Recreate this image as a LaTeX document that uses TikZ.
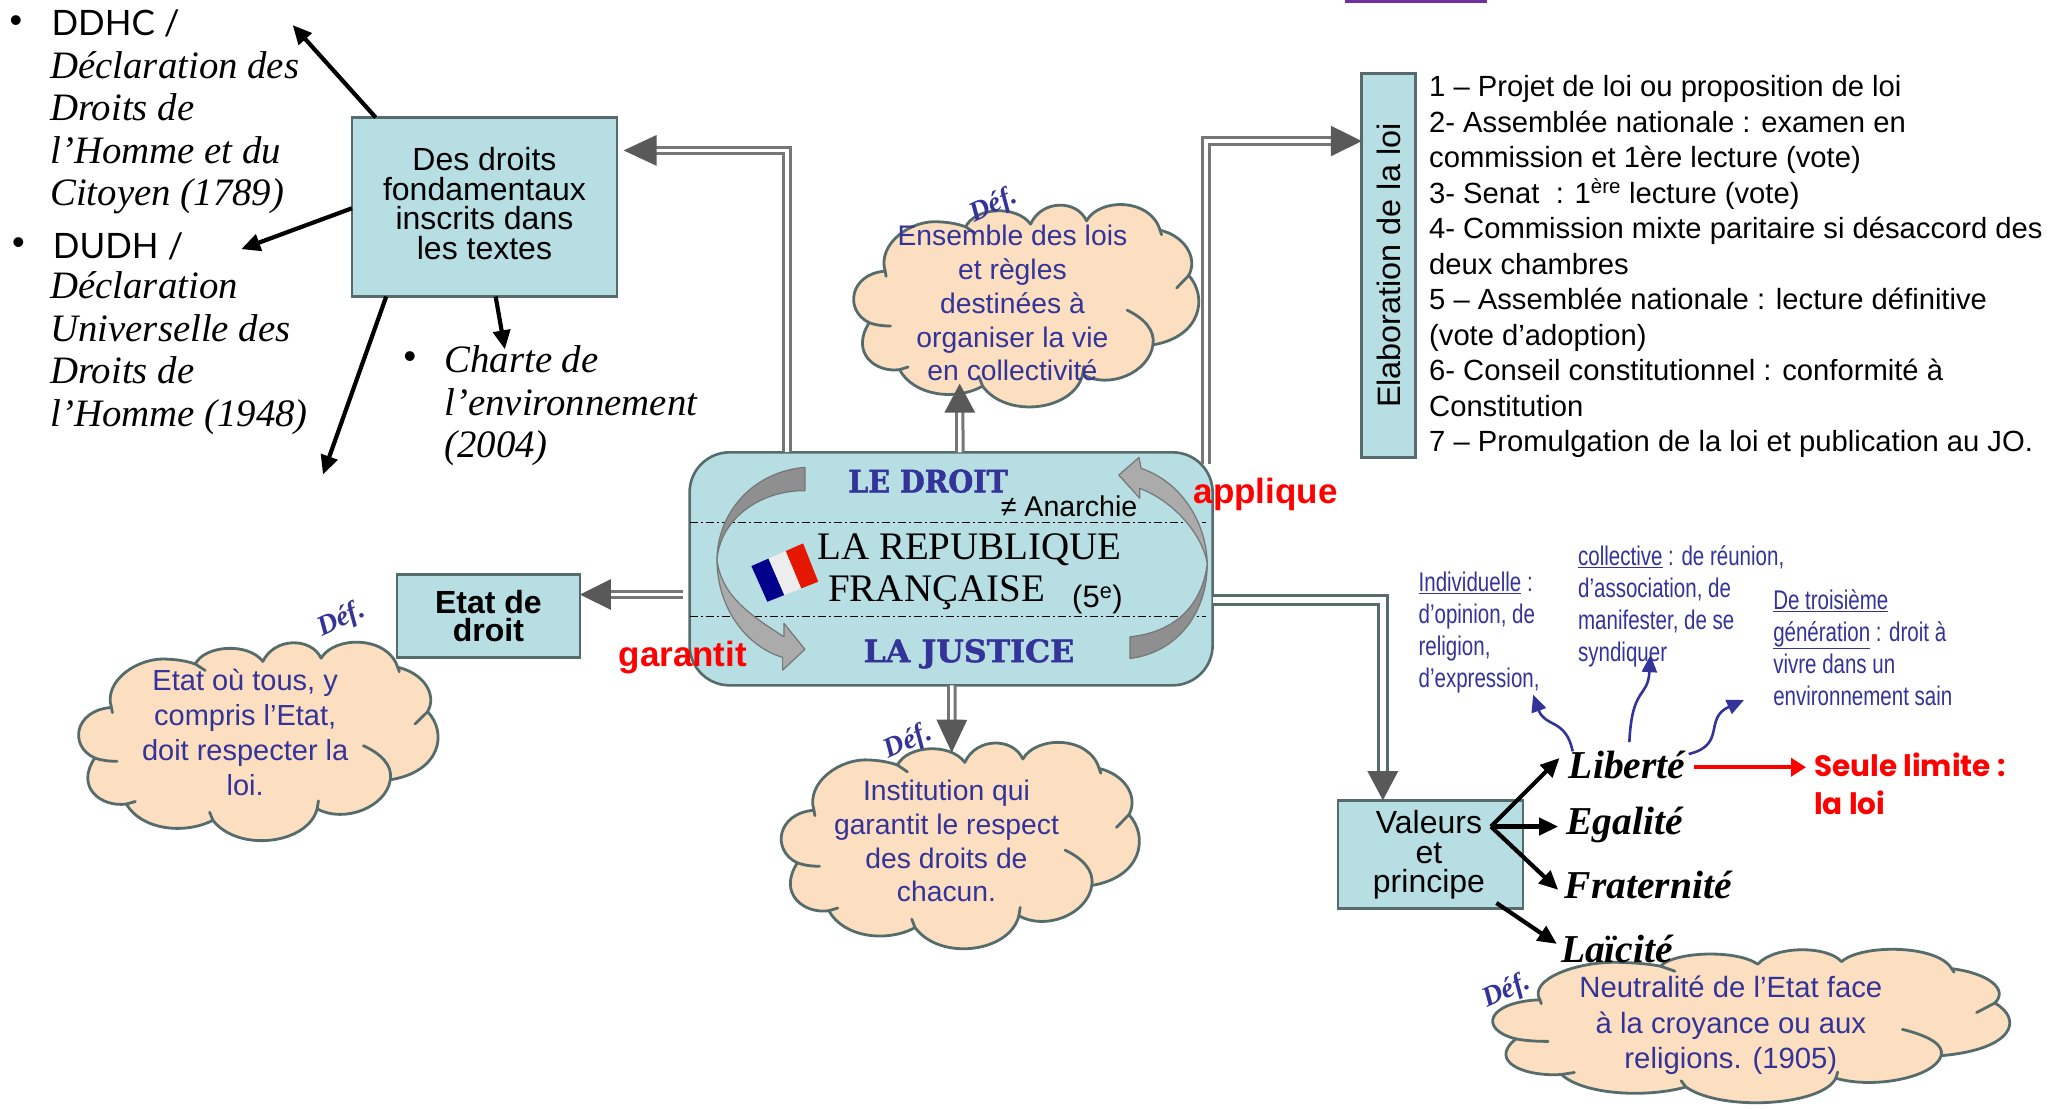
\documentclass[tikz,border=0pt]{standalone}
\usepackage{fontspec}
\setmainfont{Liberation Sans}
\newfontfamily\narrowfont[FakeStretch=0.76]{Liberation Sans}
\newfontfamily\cursfont{Liberation Serif}
\newfontfamily\slabfont[FakeStretch=0.92,BoldFeatures={FakeBold=1.5}]{DejaVu Serif}
\newfontfamily\slabwide[FakeStretch=1.02,BoldFeatures={FakeBold=1.5}]{DejaVu Serif}
\newfontfamily\seulefont{Poppins}
\newfontfamily\handfont{Lato}
\usetikzlibrary{arrows.meta,calc}
\definecolor{boxfill}{HTML}{B7DEE2}
\definecolor{boxline}{HTML}{566C6C}
\definecolor{cloudfill}{HTML}{FCDFC0}
\definecolor{deepblue}{HTML}{333399}
\definecolor{headgrey}{HTML}{595959}
\definecolor{dblgrey}{HTML}{767676}
\definecolor{bandlight}{HTML}{ABABAB}
\definecolor{banddark}{HTML}{8F8F8F}
\definecolor{purplebar}{HTML}{7030A0}
\tikzset{
  tbox/.style={draw=boxline,fill=boxfill,line width=2.6pt,rectangle,outer sep=0pt,inner sep=0pt,align=center},
  boxtext/.style={font=\fontsize{32}{29.6}\selectfont},
  cloudtext/.style={text=deepblue,align=center,inner sep=0pt,font=\fontsize{28.3}{33.8}\selectfont},
  deflabel/.style={text=deepblue,rotate=25,inner sep=0pt,font=\cursfont\bfseries\itshape\fontsize{28}{28}\selectfont},
  handtext/.style={anchor=west,align=left,inner sep=0pt,font=\cursfont\itshape\fontsize{38.8}{42.5}\selectfont},
  handhead/.style={anchor=west,inner sep=0pt,font=\handfont\fontsize{35}{35}\selectfont},
  bullet/.style={inner sep=0pt,font=\fontsize{36}{36}\selectfont},
  valeur/.style={anchor=west,inner sep=0pt,font=\cursfont\bfseries\itshape\fontsize{39.5}{39.5}\selectfont},
  bluetext/.style={anchor=north west,align=left,inner sep=0pt,text=deepblue,font=\narrowfont\fontsize{27}{32}\selectfont},
  dblarrow/.style={draw=dblgrey,double=white,double distance=3.4pt,line width=3pt,
     -{Triangle[length=#1,width=30pt,color=headgrey,fill=headgrey]}},
  dblarrow/.default=31pt,
  blackarrow/.style={draw=black,line width=4.2pt,-{Triangle[length=19pt,width=17pt]}},
  bluearrow/.style={draw=deepblue,line width=2.6pt,-{Triangle[length=17pt,width=15pt]}},
  redarrow/.style={draw=red,line width=3.6pt,-{Triangle[length=15pt,width=18pt]}},
  clouddraw/.style={draw=boxline,line width=2.8pt,fill=cloudfill,line join=round},
  wrinkle/.style={draw=boxline,line width=2.8pt,line cap=round},
  bandone/.style={draw=dblgrey,line width=1.2pt,fill=bandlight,line join=round},
  bandtwo/.style={draw=dblgrey,line width=1.2pt,fill=banddark,line join=round},
  sepline/.style={draw=black,line width=1pt,dash pattern=on 8pt off 3pt on 2pt off 3pt},
}
\newcommand{\drawcloud}[4]{%
  \pgfmathsetmacro\cldxs{#3*1.3182/1093}%
  \pgfmathsetmacro\cldys{#4*1.3182/610}%
  \begin{scope}[shift={(#1,#2)},x=\cldxs pt,y=-\cldys pt,shift={(-55,-190)}]
    \path[clouddraw] (160,392)
      .. controls (135,310) and (240,235) .. (330,243)
      .. controls (370,245) and (395,252) .. (412,258)
      .. controls (440,200) and (570,190) .. (615,250)
      .. controls (650,175) and (760,175) .. (790,240)
      .. controls (830,170) and (990,170) .. (1020,268)
      .. controls (1095,285) and (1140,350) .. (1110,405)
      .. controls (1170,470) and (1150,590) .. (998,615)
      .. controls (985,700) and (860,750) .. (778,705)
      .. controls (750,815) and (540,840) .. (465,740)
      .. controls (380,785) and (250,770) .. (205,690)
      .. controls (130,700) and (50,640) .. (110,548)
      .. controls (30,510) and (50,400) .. (160,392) -- cycle;
    \draw[wrinkle] (412,258) -- (442,278);
    \draw[wrinkle] (1110,405) -- (1072,443);
    \draw[wrinkle] (998,615) .. controls (1005,570) and (970,535) .. (917,510);
    \draw[wrinkle] (778,705) -- (782,680);
    \draw[wrinkle] (465,740) -- (455,715);
    \draw[wrinkle] (205,690) -- (232,682);
    \draw[wrinkle] (110,548) .. controls (130,555) and (150,558) .. (177,558);
    \draw[wrinkle] (160,392) -- (163,408);
    \draw[wrinkle] (1020,268) -- (1025,282);
  \end{scope}}
\begin{document}
\begin{tikzpicture}[x=1.3182pt,y=-1.3182pt]
\useasboundingbox (0,0) rectangle (1568,841);
\fill[white] (0,0) rectangle (1568,841);
\fill[purplebar] (1020,0) rectangle (1128,2.5);

% clouds
\drawcloud{646}{155}{265}{153}
\drawcloud{591}{563}{275}{156}
\drawcloud{58}{487}{276}{150}
\drawcloud{1130}{720}{397}{116}

% boxes
\node[tbox,boxtext,minimum width=265pt,minimum height=179pt,text depth=7pt] (droits) at (367.5,157) {Des droits\\fondamentaux\\inscrits dans\\les textes};
\node[tbox,minimum width=54pt,minimum height=384pt] (elab) at (1053.5,201.5) {\rotatebox{90}{\fontsize{32.4}{32.4}\selectfont Elaboration de la loi}};
\node[tbox,font=\bfseries\fontsize{32}{28}\selectfont,minimum width=183pt,minimum height=83pt] (etat) at (370.5,467.5) {Etat de\\droit};
\node[tbox,minimum width=185pt,minimum height=108pt] (valeurs) at (1085,648) {};
\node[inner sep=0pt,align=center,boxtext] (valtxt) at (1084,648.5) {Valeurs\\et\\principe};
\node[tbox,rounded corners=40pt,minimum width=523pt,minimum height=233pt] (centre) at (721.5,431.5) {};

% central decorations
\draw[sepline] (centre.west |- 0,396) -- (915,396);
\draw[sepline] (centre.west |- 0,468) -- (915,468);
\path[bandtwo] (610.6,354.5) .. controls (570,358) and (544,390) .. (543.9,424.8)
   .. controls (546,395) and (575,372) .. (610.6,372.2) -- cycle;
\path[bandone] (543.9,424.8) .. controls (544,460) and (565,490) .. (593.7,498.7)
   -- (593.7,508.3) -- (610.6,492.6) -- (594.7,472.9) -- (594.7,483)
   .. controls (566,465) and (547,450) .. (543.9,424.8) -- cycle;
\path[bandtwo] (857.2,499.5) .. controls (893,495) and (916,465) .. (915.8,427.4)
   .. controls (912,460) and (890,480) .. (857.2,483) -- cycle;
\path[bandone] (915.8,427.4) .. controls (915,395) and (895,365) .. (865.6,355.3)
   -- (864,347) -- (848.7,360.4) -- (864.6,378) -- (864.6,370.5)
   .. controls (890,380) and (912,405) .. (915.8,427.4) -- cycle;
% flag
\fill[blue!55!black] (570,429.4) -- (583,423.7) -- (595,451.4) -- (582.1,456.5) -- cycle;
\fill[white!93!black] (583,423.7) -- (596.1,418) -- (607.9,446.3) -- (595,451.4) -- cycle;
\fill[red!80!orange!90!black] (596.1,418) -- (609.2,412.2) -- (620.7,441.3) -- (607.9,446.3) -- cycle;

% double connectors
\draw[dblarrow=33pt] ($(centre.north west)+(74,0)$) |- ($(droits.north east)+(5,25)$);
\draw[dblarrow=29pt] ($(centre.north west)+(205,0)$) -- (728,291);
\draw[dblarrow=31pt] ($(centre.north east)+(-5,9)$) |- (elab.west |- 0,107);
\draw[dblarrow=31pt] ($(centre.west)+(-5,19.5)$) -- (etat.east |- 0,451);
\draw[dblarrow=33pt] ($(centre.south west)+(199,0)$) -- (722,571);
\draw[dblarrow=29pt,draw=boxline,double distance=5.5pt] ($(centre.east)+(0,23.5)$) -| (valeurs.north -| 1049,0);

% black connectors
\coordinate (tDDHC) at (222,19);
\coordinate (tDUDH) at (183,189);
\coordinate (tCharte) at (383,265);
\coordinate (tBas) at (245,360);
\draw[blackarrow] ($(droits.north west)+(18,0)$) -- (tDDHC);
\draw[blackarrow] ($(droits.west)+(0,1)$) -- (tDUDH);
\draw[blackarrow] ($(droits.south west)+(26,0)$) -- (tBas);
\draw[blackarrow] ($(droits.south west)+(109,0)$) -- (tCharte);

% texts left
\node[bullet] (b1) at (12,18) {•};
\node[handhead] (ddhc) at (39,18) {DDHC /};
\node[handtext] (ddhctxt) at (38,100.5) {Déclaration des\\Droits de\\l’Homme et du\\Citoyen (1789)};
\node[bullet] (b2) at (14,187) {•};
\node[handhead] (dudh) at (40,187) {DUDH /};
\node[handtext] (dudhtxt) at (38,268) {Déclaration\\Universelle des\\Droits de\\l’Homme (1948)};
\node[bullet] (b3) at (311,273) {•};
\node[handtext] (charte) at (337,308) {Charte de\\l’environnement\\(2004)};

% cloud texts
\node[cloudtext] (deftop) at (768,230) {Ensemble des lois\\et règles\\destinées à\\organiser la vie\\en collectivité};
\node[cloudtext] (defjust) at (718,638) {Institution qui\\garantit le respect\\des droits de\\chacun.};
\node[cloudtext,font=\fontsize{29}{35}\selectfont] (defetat) at (186,556) {Etat où tous, y\\compris l’Etat,\\doit respecter la\\loi.};
\node[cloudtext,font=\fontsize{29.3}{35.6}\selectfont] (deflaic) at (1313,778) {Neutralité de l’Etat face\\à la croyance ou aux\\religions. (1905)};
\node[deflabel] (d1) at (754,156) {Déf.};
\node[deflabel] (d2) at (689,563) {Déf.};
\node[deflabel] (d3) at (259,470) {Déf.};
\node[deflabel] (d4) at (1143,752) {Déf.};

% central texts
\node[inner sep=0pt,text=deepblue,font=\slabfont\bfseries\fontsize{31}{31}\selectfont] (droit) at (704,365) {LE DROIT};
\node[inner sep=0pt,text=deepblue,font=\slabwide\bfseries\fontsize{31}{31}\selectfont] (justice) at (735,496) {LA JUSTICE};
\node[inner sep=0pt,font=\fontsize{28.6}{28.6}\selectfont] (anarchie) at (811,384) {≠ Anarchie};
\node[inner sep=0pt,font=\cursfont\fontsize{39}{39}\selectfont] (rep) at (735.5,417) {LA REPUBLIQUE};
\node[inner sep=0pt,font=\cursfont\fontsize{39}{39}\selectfont] (fra) at (710.5,450) {FRANÇAISE};
\node[inner sep=0pt,font=\fontsize{31}{31}\selectfont] (cinq) at (832.5,455) {(5\textsuperscript{e})};
\node[inner sep=0pt,text=red,font=\bfseries\fontsize{35}{35}\selectfont] (applique) at (960,375) {applique};
\node[inner sep=0pt,text=red,font=\bfseries\fontsize{35}{35}\selectfont] (garantit) at (518,499) {garantit};

% list
\node[anchor=north west,align=left,inner sep=0pt,font=\fontsize{29.2}{35.5}\selectfont] (liste) at (1084,57) {1 – Projet de loi ou proposition de loi\\
2- Assemblée nationale : examen en\\
commission et 1ère lecture (vote)\\
3- Senat~ : 1\textsuperscript{ère} lecture (vote)\\
4- Commission mixte paritaire si désaccord des\\
deux chambres\\
5 – Assemblée nationale : lecture définitive\\
(vote d’adoption)\\
6- Conseil constitutionnel : conformité à\\
Constitution\\
7 – Promulgation de la loi et publication au JO.};

% values
\node[valeur] (lib) at (1190,580) {Liberté};
\node[valeur] (ega) at (1188,626) {Egalité};
\node[valeur] (fra2) at (1187,671) {Fraternité};
\node[valeur] (lai) at (1184,720) {Laïcité};
\node[anchor=north west,align=left,inner sep=0pt,text=red,font=\seulefont\bfseries\fontsize{29.5}{38}\selectfont] (seule) at (1376,571) {Seule limite :\\la loi};

\node[bluetext] (ind) at (1076,434) {\underline{Individuelle} :\\d’opinion, de\\religion,\\d’expression,};
\node[bluetext] (col) at (1197,414) {\underline{collective} : de réunion,\\d’association, de\\manifester, de se\\syndiquer};
\node[bluetext] (tro) at (1345,447) {\underline{De troisième}\\\underline{génération} : droit à\\vivre dans un\\environnement sain};

\coordinate (vc) at (1131,627);
\coordinate (bInd) at (1163,527);
\coordinate (bCol) at (1252,497);
\coordinate (bTro) at (1323,531);
\coordinate (rLim) at (1370,582);
\draw[blackarrow] (vc) -- (1183,575);
\draw[blackarrow] (vc) -- (1182,627);
\draw[blackarrow] (vc) -- (1182,675);
\draw[blackarrow] ($(valeurs.south east)+(-20,-4)$) -- (1181,716);
\draw[bluearrow] (1193,570) .. controls (1188,545) and (1172,552) .. (bInd);
\draw[bluearrow] (1236,563) .. controls (1238,520) and (1250,530) .. (bCol);
\draw[bluearrow] (1281,572) .. controls (1310,565) and (1292,545) .. (bTro);
\draw[redarrow] (1285,582) -- (rLim);
\end{tikzpicture}
\end{document}
